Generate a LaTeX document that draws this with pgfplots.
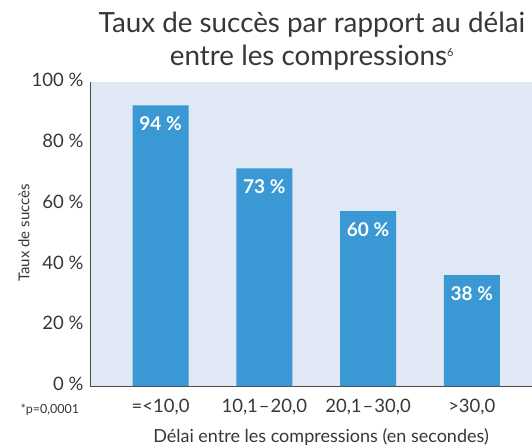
\documentclass[border=0pt]{standalone}
\usepackage{pgfplots}
\pgfplotsset{compat=1.18}
\usepackage{fontspec}
\setmainfont{Lato}
\definecolor{barblue}{RGB}{58,153,212}
\definecolor{panel}{RGB}{223,232,244}
\definecolor{txt}{RGB}{55,55,55}
\begin{document}
\begin{tikzpicture}[x=1pt,y=1pt]
\useasboundingbox (0,0) rectangle (532,447);
\begin{axis}[
  at={(90pt,61pt)}, anchor=south west,
  scale only axis, width=442pt, height=304pt,
  axis background/.style={fill=panel},
  axis x line=bottom, axis y line=left,
  axis line style={-, draw=txt!90, line width=1pt},
  ymin=0, ymax=100, ytick={0,20,40,60,80,100},
  yticklabel={\pgfmathprintnumber{\tick} \%},
  /pgf/number format/assume math mode=true,
  xmin=-0.68, xmax=3.58, xtick=data,
  xticklabels={{=<10,0},{10,1\kern1pt–\kern1pt20,0},{20,1\kern1pt–\kern1pt30,0},{>30,0}},
  major tick length=0pt,
  tick style={draw=none},
  ticklabel style={font=\fontsize{18.5}{20}\selectfont, text=txt},
  yticklabel style={xshift=-3pt, yshift=2pt},
  xticklabel style={yshift=-10pt},
  ybar, bar width=56pt,
  nodes near coords,
  point meta=explicit symbolic,
  every node near coord/.append style={font=\bfseries\fontsize{19}{20}\selectfont, text=white, anchor=north, yshift=-8pt},
]
\addplot[fill=barblue, draw=none] coordinates {(0,92.3)[94 \%] (1,71.6)[73 \%] (2,57.5)[60 \%] (3,36.5)[38 \%]};
\end{axis}
\node[text=txt, font=\fontsize{27.8}{33}\selectfont, align=center] at (312,406) {Taux de succès par rapport au délai\\entre les compressions\textsuperscript{\fontsize{11}{12}\selectfont 6}};
\node[text=txt, font=\fontsize{15}{16}\selectfont, rotate=90] at (24,214) {Taux de succès};
\node[text=txt, font=\fontsize{18}{20}\selectfont] at (321,10) {Délai entre les compressions (en secondes)};
\node[text=txt, font=\fontsize{12.5}{14}\selectfont, anchor=west] at (17,37) {*p=0,0001};
\end{tikzpicture}
\end{document}
